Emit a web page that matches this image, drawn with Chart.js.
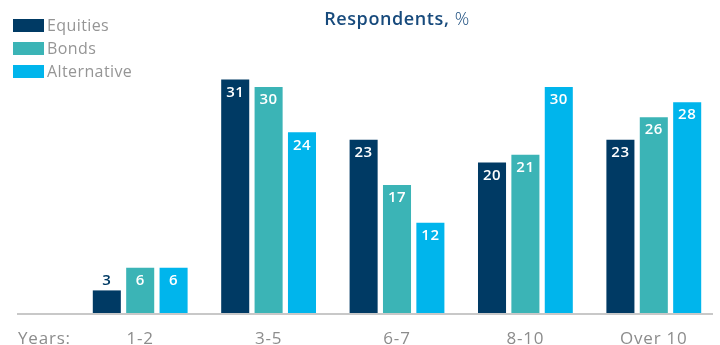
<!DOCTYPE html>
<html>
<head>
<meta charset="utf-8">
<script src="https://cdn.jsdelivr.net/npm/chart.js@4"></script>
<style>
  html, body { margin: 0; padding: 0; background: #fff; }
  .wrap { position: relative; width: 720px; height: 345px; }
</style>
</head>
<body>
<div class="wrap"><canvas id="chart"></canvas></div>
<script>
const CATEGORIES = ['1-2', '3-5', '6-7', '8-10', 'Over 10'];
const SERIES = ['Equities', 'Bonds', 'Alternative'];
const EQUITIES = [3, 31, 23, 20, 23];
const BONDS = [6, 30, 17, 21, 26];
const ALTERNATIVE = [6, 24, 12, 30, 28];
const COLORS = ['#003a64', '#3bb4b6', '#00b5ec'];

const FONT = "'Open Sans', 'DejaVu Sans', sans-serif";
const GREY = '#8c8c8c';

// title, legend, baseline, x labels and value labels drawn on canvas
const decor = {
  id: 'decor',
  afterDatasetsDraw(chart) {
    const { ctx, chartArea } = chart;
    const xs = chart.scales.x;
    ctx.save();

    // baseline
    ctx.strokeStyle = '#c8c8c8';
    ctx.lineWidth = 2;
    ctx.beginPath();
    ctx.moveTo(17, chartArea.bottom + 1);
    ctx.lineTo(713, chartArea.bottom + 1);
    ctx.stroke();

    // x labels
    ctx.fillStyle = GREY;
    ctx.letterSpacing = '0.8px';
    ctx.font = `17px ${FONT}`;
    ctx.textBaseline = 'middle';
    ctx.textAlign = 'left';
    ctx.fillText('Years:', 18, 339);
    ctx.textAlign = 'center';
    CATEGORIES.forEach((c, i) => ctx.fillText(c, xs.getPixelForValue(i), 339));

    // value labels
    ctx.letterSpacing = '0.5px';
    ctx.font = `600 15px ${FONT}`;
    chart.data.datasets.forEach((ds, di) => {
      chart.getDatasetMeta(di).data.forEach((bar, i) => {
        const v = ds.data[i];
        if (bar.base - bar.y > 30) {
          ctx.fillStyle = '#fff';
          ctx.fillText(String(v), bar.x, bar.y + 13);
        } else {
          ctx.fillStyle = COLORS[0];
          ctx.fillText(String(v), bar.x, bar.y - 10);
        }
      });
    });

    // title
    ctx.textAlign = 'left';
    ctx.letterSpacing = '0.6px';
    ctx.font = `600 18px ${FONT}`;
    const t1 = 'Respondents, ';
    const w1 = ctx.measureText(t1).width;
    ctx.font = `300 18px ${FONT}`;
    const w2 = ctx.measureText('%').width;
    const tx = 397 - (w1 + w2) / 2;
    ctx.fillStyle = '#174a7c';
    ctx.font = `600 18px ${FONT}`;
    ctx.fillText(t1, tx, 20);
    ctx.font = `300 18px ${FONT}`;
    ctx.fillText('%', tx + w1, 20);

    // legend
    ctx.letterSpacing = '0.4px';
    ctx.font = `16px ${FONT}`;
    chart.data.datasets.forEach((ds, di) => {
      const y = 19 + di * 23;
      ctx.fillStyle = ds.backgroundColor;
      ctx.fillRect(13, y, 31, 13);
      ctx.fillStyle = '#959595';
      ctx.fillText(ds.label, 47, y + 7);
    });

    ctx.restore();
  }
};

new Chart(document.getElementById('chart'), {
  type: 'bar',
  data: {
    labels: CATEGORIES,
    datasets: [EQUITIES, BONDS, ALTERNATIVE].map((d, i) => ({
      label: SERIES[i],
      data: d,
      backgroundColor: COLORS[i],
      borderWidth: 0,
      categoryPercentage: 0.78,
      barPercentage: 0.84
    }))
  },
  options: {
    responsive: true,
    maintainAspectRatio: false,
    animation: false,
    layout: { padding: { left: 76, right: 2, top: 72, bottom: 32 } },
    plugins: { legend: { display: false }, title: { display: false }, tooltip: { enabled: false } },
    scales: {
      x: { display: false, grid: { display: false } },
      y: { display: false, min: 0, max: 32, grid: { display: false } }
    }
  },
  plugins: [decor]
});
</script>
</body>
</html>
